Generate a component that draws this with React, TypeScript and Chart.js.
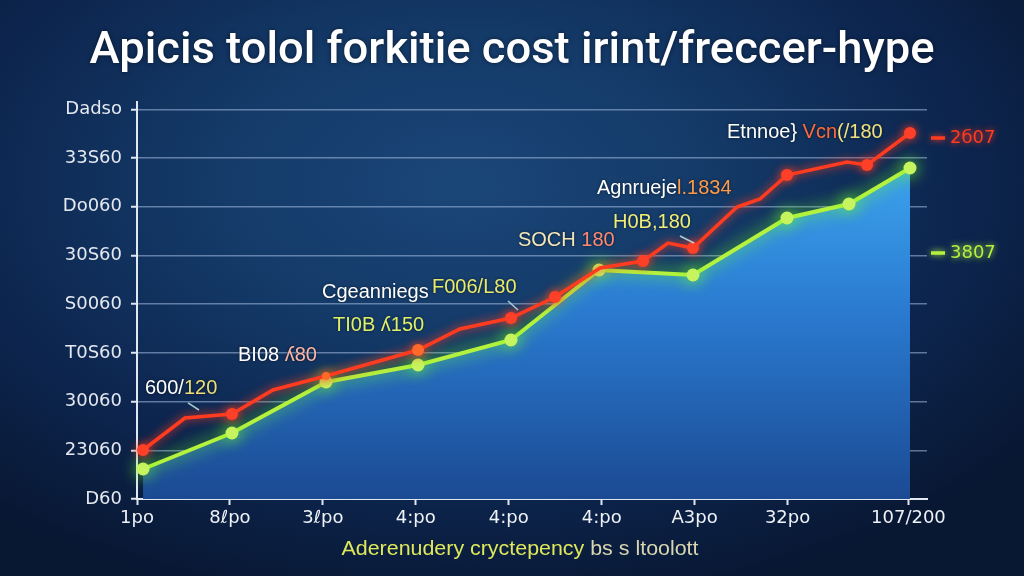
import React, { useEffect, useRef } from "react";
import { Chart, registerables } from "chart.js";

Chart.register(...registerables);

// ---- Axis ticks ----
const xTickValues = [0, 1, 2, 3, 4, 5, 6, 7, 8.3];
const xTickLabels = ["1po", "8ℓpo", "3ℓpo", "4:po", "4:po", "4:po", "A3po", "32po", "107/200"];
const yTickValues = [0, 1000, 2000, 3000, 4000, 5000, 6000, 7000, 8000];
const yTickLabels = ["D60", "23060", "30060", "T0S60", "S0060", "30S60", "Do060", "33S60", "Dadso"];

// ---- Red series ----
const redX = [0.065, 0.516, 1.022, 1.463, 2.034, 3.024, 3.475, 4.024, 4.498, 4.982, 5.445, 5.714, 5.982, 6.456, 6.703, 6.994, 7.639, 7.855, 8.317];
const redY = [1006, 1663, 1745, 2238, 2525, 3059, 3490, 3716, 4147, 4742, 4886, 5255, 5153, 5994, 6159, 6651, 6918, 6857, 7514];
const redMarked = [1, 0, 1, 0, 1, 1, 0, 1, 1, 0, 1, 0, 1, 0, 0, 1, 0, 1, 1];

// ---- Green series ----
const greenX = [0.065, 1.022, 2.034, 3.024, 4.024, 4.971, 5.982, 6.994, 7.661, 8.317];
const greenY = [616, 1355, 2402, 2751, 3264, 4701, 4598, 5769, 6056, 6795];

// ---- Texts ----
const titleText = "Apicis tolol forkitie cost irint/freccer-hype";
const xTitleParts = ["Aderenudery cryctepency ", "bs s ltoolott"];

// Callouts: text pieces and the data point each one starts from
const calloutText = [
  ["600/", "120"],
  ["BI08 ", "ʎ80"],
  ["Cgeanniegs"],
  ["F006/L80"],
  ["TI0B ʎ150"],
  ["SOCH ", "180"],
  ["H0B,180"],
  ["Agnrueje", "l.1834"],
  ["Etnnoe} ", "Vcn", "(/180"],
];
const calloutX = [0.086, 1.087, 1.99, 3.174, 2.109, 4.099, 5.122, 4.949, 6.348];
const calloutY = [2279, 2956, 4249, 4352, 3572, 5317, 5686, 6384, 7534];

// Small pointer strokes (x1, y1, x2, y2 in data units)
const pointerX1 = [0.549, 3.992, 5.842];
const pointerY1 = [1971, 4065, 5399];
const pointerX2 = [0.667, 4.099, 5.993];
const pointerY2 = [1827, 3880, 5255];

// Series end labels
const endLabelText = ["2б07", "3807"];
const endLabelY = [7411, 5050];

// ---- Styling ----
const RED = "#ff3b20";
const GREEN = "#b4f23e";
const calloutColors = [
  ["#ffffff", "#f1de78"],
  ["#ffffff", "#ffb6a6"],
  ["#ffffff"],
  ["#e9ea6a"],
  ["#dff06a"],
  ["#f3e6b8", "#ff8a70"],
  ["#f1ee78"],
  ["#ffffff", "#ff9a48"],
  ["#ffffff", "#ff6a3a", "#f1e27e"],
];
const endLabelColors = [RED, GREEN];

function drawFitted(
  ctx: CanvasRenderingContext2D,
  parts: string[],
  colors: string[],
  cx: number,
  y: number,
  width: number
) {
  const widths = parts.map((p) => ctx.measureText(p).width);
  const natural = widths.reduce((a, b) => a + b, 0);
  const sx = width / natural;
  ctx.save();
  ctx.translate(cx - width / 2, y);
  ctx.scale(sx, 1);
  let x = 0;
  parts.forEach((p, i) => {
    ctx.fillStyle = colors[i];
    ctx.fillText(p, x, 0);
    x += widths[i];
  });
  ctx.restore();
}

const glowPlugin = {
  id: "glow",
  beforeDatasetDraw(chart: any, args: any) {
    const ctx = chart.ctx;
    ctx.save();
    if (args.index === 0) {
      ctx.shadowColor = "rgba(255,60,30,1)";
      ctx.shadowBlur = 10;
    } else {
      ctx.shadowColor = "rgba(110,255,40,1)";
      ctx.shadowBlur = 16;
    }
  },
  afterDatasetDraw(chart: any) {
    chart.ctx.restore();
  },
};

const textPlugin = {
  id: "texts",
  afterDraw(chart: any) {
    const ctx: CanvasRenderingContext2D = chart.ctx;
    const xs = chart.scales.x;
    const ys = chart.scales.y;
    const area = chart.chartArea;

    // Title
    ctx.save();
    ctx.font = "500 44px Roboto, 'Liberation Sans', sans-serif";
    ctx.textBaseline = "alphabetic";
    ctx.textAlign = "left";
    ctx.shadowColor = "rgba(0,0,0,0.5)";
    ctx.shadowBlur = 4;
    drawFitted(ctx, [titleText], ["#ffffff"], 512, 63, 845);
    ctx.restore();

    // X axis title
    ctx.save();
    ctx.font = "20px 'Liberation Sans', sans-serif";
    ctx.textBaseline = "middle";
    ctx.textAlign = "left";
    drawFitted(ctx, xTitleParts, ["#dfe85a", "#d8d6b0"], 520, 549, 357);
    ctx.restore();

    // Callouts
    ctx.save();
    ctx.font = "20px 'Liberation Sans', sans-serif";
    ctx.textBaseline = "middle";
    ctx.textAlign = "left";
    ctx.shadowColor = "rgba(0,0,0,0.6)";
    ctx.shadowBlur = 3;
    calloutText.forEach((parts, i) => {
      let x = xs.getPixelForValue(calloutX[i]);
      const y = ys.getPixelForValue(calloutY[i]);
      parts.forEach((p, j) => {
        ctx.fillStyle = calloutColors[i][j];
        ctx.fillText(p, x, y);
        x += ctx.measureText(p).width;
      });
    });
    ctx.restore();

    // Pointer strokes
    ctx.save();
    ctx.strokeStyle = "rgba(190,230,230,0.85)";
    ctx.lineWidth = 1.5;
    pointerX1.forEach((_, i) => {
      ctx.beginPath();
      ctx.moveTo(xs.getPixelForValue(pointerX1[i]), ys.getPixelForValue(pointerY1[i]));
      ctx.lineTo(xs.getPixelForValue(pointerX2[i]), ys.getPixelForValue(pointerY2[i]));
      ctx.stroke();
    });
    ctx.restore();

    // End labels on the right
    ctx.save();
    ctx.font = "18px 'DejaVu Sans', sans-serif";
    ctx.textBaseline = "middle";
    ctx.textAlign = "left";
    endLabelText.forEach((t, i) => {
      const y = ys.getPixelForValue(endLabelY[i]);
      ctx.strokeStyle = endLabelColors[i];
      ctx.fillStyle = endLabelColors[i];
      ctx.shadowColor = endLabelColors[i];
      ctx.shadowBlur = 6;
      ctx.lineWidth = 3.5;
      ctx.beginPath();
      ctx.moveTo(area.right + 4, y);
      ctx.lineTo(area.right + 18, y);
      ctx.stroke();
      ctx.fillText(t, area.right + 23, y);
    });
    ctx.restore();
  },
};

export default function App() {
  const canvasRef = useRef<HTMLCanvasElement>(null);

  useEffect(() => {
    const canvas = canvasRef.current;
    if (!canvas) return;

    const chart = new Chart(canvas, {
      type: "line",
      data: {
        datasets: [
          {
            label: "red",
            data: redX.map((x, i) => ({ x, y: redY[i] })),
            borderColor: RED,
            borderWidth: 3.5,
            pointRadius: redMarked.map((m, i) => (m ? (i === 4 ? 4 : 6) : 0)),
            pointBackgroundColor: redMarked.map((_, i) => (i === 4 || i === 5 ? "#ff6a2a" : "#ff4028")),
            pointBorderWidth: 0,
            tension: 0,
            fill: false,
            clip: false,
          },
          {
            label: "green",
            data: greenX.map((x, i) => ({ x, y: greenY[i] })),
            borderColor: GREEN,
            borderWidth: 4,
            pointRadius: 6.5,
            pointBackgroundColor: "#c6f45e",
            pointBorderWidth: 0,
            tension: 0,
            fill: "origin",
            clip: false,
            backgroundColor: (c: any) => {
              const area = c.chart.chartArea;
              if (!area) return "rgba(40,110,200,0.8)";
              const g = c.chart.ctx.createLinearGradient(0, area.top + 60, 0, area.bottom);
              g.addColorStop(0, "#3ca4ee");
              g.addColorStop(0.45, "#2a7ad0");
              g.addColorStop(1, "#1b4a92");
              return g;
            },
          },
        ],
      },
      options: {
        responsive: false,
        animation: false,
        layout: { padding: { top: 102, right: 97, left: 0, bottom: 0 } },
        plugins: {
          legend: { display: false },
          title: { display: false },
          tooltip: { enabled: false },
        },
        scales: {
          x: {
            type: "linear",
            min: 0,
            max: 8.5,
            afterBuildTicks: (scale: any) => {
              scale.ticks = xTickValues.map((v) => ({ value: v }));
            },
            afterFit: (scale: any) => {
              scale.height = 77;
            },
            ticks: {
              autoSkip: false,
              maxRotation: 0,
              padding: 3,
              color: "#eef1f6",
              font: { family: "'DejaVu Sans', sans-serif", size: 18 },
              callback: (v: any) => {
                const i = xTickValues.indexOf(Number(v));
                return i >= 0 ? xTickLabels[i] : "";
              },
            },
            grid: {
              drawOnChartArea: false,
              drawTicks: true,
              tickLength: 6,
              tickColor: "#dfe6f0",
              tickWidth: 2,
            },
            border: { color: "#e2e8f2", width: 2 },
          },
          y: {
            type: "linear",
            min: 0,
            max: 8150,
            afterBuildTicks: (scale: any) => {
              scale.ticks = yTickValues.map((v) => ({ value: v }));
            },
            afterFit: (scale: any) => {
              scale.width = 137;
            },
            ticks: {
              padding: 9,
              color: "#e4e8ef",
              font: { family: "'DejaVu Sans', sans-serif", size: 18 },
              callback: (v: any) => {
                const i = yTickValues.indexOf(Number(v));
                return i >= 0 ? yTickLabels[i] : "";
              },
            },
            grid: {
              color: "rgba(165,190,225,0.55)",
              lineWidth: 1.5,
              tickLength: 6,
              tickColor: "#dfe6f0",
              tickWidth: 2,
            },
            border: { color: "#e2e8f2", width: 2 },
          },
        },
      },
      plugins: [glowPlugin, textPlugin],
    } as any);

    return () => chart.destroy();
  }, []);

  return (
    <div
      style={{
        position: "fixed",
        left: 0,
        top: 0,
        width: 1024,
        height: 576,
        overflow: "hidden",
        background:
          "radial-gradient(ellipse 70% 75% at 45% 32%, #1a4678 0%, #143a68 35%, #0d2650 68%, #081732 100%)",
      }}
    >
      <canvas ref={canvasRef} width={1024} height={576} style={{ display: "block", width: 1024, height: 576 }} />
    </div>
  );
}
